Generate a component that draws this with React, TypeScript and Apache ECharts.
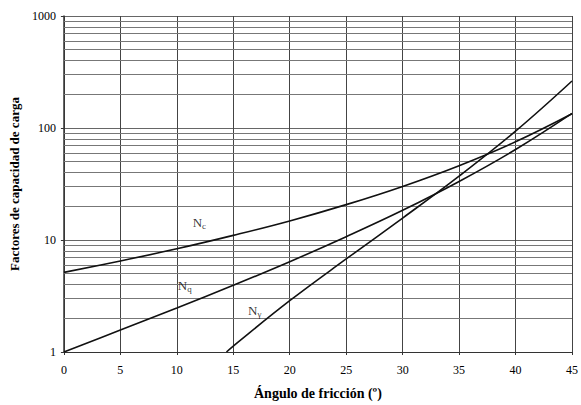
import React, { useEffect, useRef } from "react";
import * as echarts from "echarts";

const angles = [0, 5, 10, 15, 20, 25, 30, 35, 40, 45];
const ncValues = [5.14, 6.5, 8.35, 11.0, 14.8, 20.7, 30.1, 46.1, 75.3, 133.9];
const nqValues = [1.0, 1.57, 2.47, 3.94, 6.4, 10.7, 18.4, 33.3, 64.2, 134.9];
const ngAngles = [14.4, 15, 20, 25, 30, 35, 40, 45];
const ngValues = [1.0, 1.13, 2.87, 6.77, 15.7, 37.2, 93.7, 262.7];
const minorGrid = [2, 3, 4, 5, 6, 7, 8, 9, 20, 30, 40, 50, 60, 70, 80, 90, 200, 300, 400, 500, 600, 700, 800, 900];
const curveLabels = [
  { x: 12.0, y: 14.3, sub: "c" },
  { x: 10.7, y: 3.95, sub: "q" },
  { x: 16.9, y: 2.35, sub: "γ" },
];

const FONT = "'Liberation Serif', 'DejaVu Serif', serif";

export default function App() {
  const ref = useRef<HTMLDivElement>(null);
  useEffect(() => {
    if (!ref.current) return;
    const chart = echarts.init(ref.current, undefined, { renderer: "svg" });
    const lineStyle = { color: "#111", width: 1.6 };
    chart.setOption({
      animation: false,
      backgroundColor: "#fff",
      grid: { left: 62, right: 4, top: 16, bottom: 53, containLabel: false },
      xAxis: {
        type: "value",
        min: 0,
        max: 45,
        interval: 5,
        name: "Ángulo de fricción (º)",
        nameLocation: "middle",
        nameGap: 34,
        nameTextStyle: { fontFamily: FONT, fontWeight: "bold", fontSize: 14, color: "#000" },
        axisLine: { show: true, lineStyle: { color: "#333", width: 1 } },
        axisTick: { show: true, length: 3, lineStyle: { color: "#333" } },
        axisLabel: { fontFamily: FONT, fontSize: 12, color: "#000", margin: 12 },
        splitLine: { show: true, lineStyle: { color: "#444", width: 1 } },
      },
      yAxis: {
        type: "log",
        logBase: 10,
        min: 1,
        max: 1000,
        name: "Factores de capacidad de carga",
        nameLocation: "middle",
        nameGap: 40,
        nameTextStyle: { fontFamily: FONT, fontWeight: "bold", fontSize: 13, color: "#000" },
        axisLine: { show: true, lineStyle: { color: "#333", width: 1.5 } },
        axisTick: { show: true, length: 3, lineStyle: { color: "#333" } },
        axisLabel: { fontFamily: FONT, fontSize: 12, color: "#000", margin: 8, formatter: (v: number) => String(v) },
        splitLine: { show: true, lineStyle: { color: "#666", width: 1 } },
      },
      series: [
        {
          type: "line",
          name: "Nc",
          data: angles.map((a, i) => [a, ncValues[i]]),
          showSymbol: false,
          smooth: 0.4,
          lineStyle,
          z: 5,
          markLine: {
            silent: true,
            symbol: "none",
            label: { show: false },
            lineStyle: { color: "#777", width: 1, type: "solid" },
            data: minorGrid.map((v) => ({ yAxis: v })),
            z: 1,
          },
        },
        {
          type: "line",
          name: "Nq",
          data: angles.map((a, i) => [a, nqValues[i]]),
          showSymbol: false,
          smooth: 0.4,
          lineStyle,
          z: 5,
        },
        {
          type: "line",
          name: "Nγ",
          data: ngAngles.map((a, i) => [a, ngValues[i]]),
          showSymbol: false,
          smooth: 0.4,
          lineStyle,
          z: 5,
        },
        {
          type: "scatter",
          symbolSize: 0,
          data: curveLabels.map((l) => ({ value: [l.x, l.y], sub: l.sub })),
          label: {
            show: true,
            position: "inside",
            formatter: (p: any) => `{n|N}{s|${p.data.sub}}`,
            rich: {
              n: { fontFamily: FONT, fontSize: 13, color: "#000" },
              s: { fontFamily: FONT, fontSize: 9, color: "#000", padding: [7, 0, 0, 0] },
            },
          },
          z: 6,
        },
      ],
    });
    return () => chart.dispose();
  }, []);
  return <div ref={ref} style={{ width: 581, height: 405, position: "absolute", left: 0, top: 0 }} />;
}
